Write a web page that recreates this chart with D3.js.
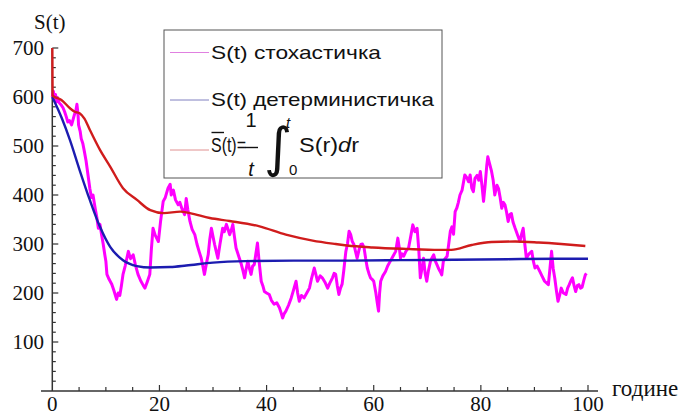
<!DOCTYPE html>
<html><head><meta charset="utf-8">
<script src="https://cdn.jsdelivr.net/npm/d3@7"></script>
<style>body{margin:0;background:#fff}svg{display:block}.serif{font-family:"Liberation Serif","DejaVu Serif","Noto Serif","Nimbus Roman","Times New Roman",Times,serif}</style>
</head><body>
<svg id="c" width="678" height="416"></svg>
<script>
const xTicks = [0, 20, 40, 60, 80, 100];
const yTicks = [100, 200, 300, 400, 500, 600, 700];
const legendLabels = ["S(t) стохастичка", "S(t) детерминистичка"];
const xLabel = "године";
const yLabel = "S(t)";

// stochastic S(t): [t, S]
const stochT = [0,0.2,0.4,0.6,0.8,1.0,1.3,1.7,2.0,2.3,2.6,2.9,3.2,3.6,3.9,4.1,4.4,4.6,4.8,4.9,5.2,5.4,5.7,6.0,6.3,6.5,6.8,7.0,7.3,7.6,8.0,8.3,8.6,8.9,9.2,9.5,9.8,10.0,10.2,10.6,11.1,11.5,12.0,12.3,12.6,12.9,13.2,13.6,14.2,14.6,15.1,15.5,16.0,16.5,17.0,17.3,17.7,18.2,18.5,18.8,19.2,19.8,20.2,20.7,21.1,21.6,22.0,22.2,22.6,23.0,23.5,23.8,24.2,24.7,25.0,25.3,25.7,26.1,26.6,27.0,27.4,27.8,28.1,28.4,28.8,29.1,29.4,29.7,30.0,30.3,30.6,30.9,31.3,31.8,32.1,32.5,32.8,33.1,33.4,33.7,34.0,34.3,34.8,35.3,35.6,35.9,36.2,36.5,36.8,37.1,37.4,37.7,38.0,38.3,38.6,39.0,39.3,39.6,40.0,40.5,40.9,41.4,41.9,42.4,42.7,43.0,43.3,43.6,44.1,44.6,45.0,45.5,45.8,46.1,46.5,47.0,47.5,48.0,48.4,48.9,49.2,49.5,50.0,50.4,50.9,51.4,51.8,52.3,52.6,52.9,53.2,53.5,53.8,54.1,54.4,54.8,55.1,55.4,55.7,56.0,56.3,56.6,56.9,57.3,57.6,57.9,58.2,58.5,58.8,59.1,59.4,59.7,60.0,60.4,60.7,60.9,61.1,61.3,61.7,62.2,62.6,63.1,63.6,64.1,64.5,64.8,65.0,65.3,65.6,66.0,66.5,66.9,67.3,67.7,68.1,68.4,68.7,69.0,69.3,69.6,69.9,70.2,70.6,70.9,71.2,71.5,71.8,72.1,72.4,72.7,73.0,73.4,73.7,74.0,74.3,74.6,74.9,75.2,75.5,75.8,76.1,76.5,77.0,77.4,77.7,78.0,78.3,78.6,78.9,79.3,79.6,79.9,80.2,80.5,80.8,81.1,81.3,81.6,82.0,82.3,82.6,83.0,83.3,83.6,83.9,84.2,84.5,84.8,85.1,85.4,85.7,86.0,86.4,86.8,87.3,87.6,87.9,88.2,88.5,89.0,89.5,89.8,90.1,90.5,91.0,91.4,91.9,92.3,92.6,92.9,93.2,93.5,93.8,94.1,94.4,94.7,95.0,95.4,95.9,96.2,96.5,96.8,97.1,97.4,97.7,98.0,98.3,98.6,98.9,99.2,99.5,99.7];
const stochS = [600,612,595,605,590,598,588,583,578,570,560,549,552,543,555,563,572,585,565,543,530,515,505,488,470,454,430,414,395,400,373,355,332,340,319,300,278,265,238,228,218,205,187,200,195,215,238,255,285,270,278,258,238,225,215,210,222,238,290,332,318,305,345,387,395,414,422,400,410,390,380,385,372,360,393,370,346,330,319,300,285,271,255,238,262,278,310,332,315,299,285,271,300,332,325,340,330,319,328,340,315,292,275,258,245,231,250,265,250,238,255,258,280,302,265,224,215,203,200,197,185,177,180,170,160,149,158,163,175,190,205,224,200,183,195,190,200,210,230,251,238,224,235,231,222,210,220,231,240,238,215,197,210,218,245,285,300,326,319,305,299,285,271,290,299,300,292,270,251,240,231,228,224,200,177,163,200,224,235,244,255,265,275,285,312,290,271,280,275,285,292,315,339,325,332,290,231,250,271,240,224,245,265,272,278,265,258,250,244,237,265,271,275,300,326,335,320,366,373,385,400,410,441,435,427,441,414,407,434,440,430,448,420,387,420,460,478,465,448,430,400,420,413,395,373,385,380,365,346,360,362,345,332,320,305,320,332,300,271,280,285,265,251,255,244,235,224,220,217,250,285,250,230,205,183,195,210,200,197,210,217,225,231,215,203,215,217,210,212,225,237,240];

// deterministic S(t)
const detT = [0,1.8,3.3,5.1,7.0,8.9,10.8,13.2,15.8,18.3,22.0,25.0,30.0,36.0,45.0,55.0,65.0,75.0,85.0,95.0,100];
const detS = [600,556,512,451,390,335,294,267,255,252,253,256,262,265,266,266,267,268,269,270,270];

// time average of stochastic
const avgT = [0,0.05,1.7,3.3,4.2,5.1,6.0,7.0,8.9,10.8,13.2,15.8,18.3,20.8,23.9,25.7,29.4,33.1,38.7,43.6,48.6,52.9,55.0,59.8,66.0,72.2,74.5,78.3,82.0,86.4,90.8,95.0,99.5];
const avgS = [700,603,594,577,570,567,556,533,492,458,414,390,369,363,366,363,353,347,336,319,307,300,297,293,290,288,288,298,304,305,303,300,296];

const SANS = "'Liberation Sans', Arial, Helvetica, sans-serif";

const svg = d3.select("#c");
const x = d3.scaleLinear().domain([0, 100]).range([52.3, 588]);
const y = d3.scaleLinear().domain([0, 700]).range([391, 48]);
const axisColor = "#333";

svg.append("line").attr("x1", 41).attr("x2", 598).attr("y1", y(0)).attr("y2", y(0))
  .attr("stroke", axisColor).attr("stroke-width", 1.5);
svg.append("line").attr("x1", x(0)).attr("x2", x(0)).attr("y1", y(0)).attr("y2", y(700))
  .attr("stroke", axisColor).attr("stroke-width", 1.5);

const xMinor = d3.range(5, 101, 5);
svg.selectAll(".xt").data(xMinor).join("line")
  .attr("x1", d => x(d)).attr("x2", d => x(d))
  .attr("y1", y(0)).attr("y2", d => y(0) - (d % 20 === 0 ? 6 : 4))
  .attr("stroke", axisColor).attr("stroke-width", 1.2);
svg.selectAll(".xl").data(xTicks).join("text").attr("class", "serif")
  .attr("x", d => x(d)).attr("y", 411)
  .attr("text-anchor", "middle")
  .attr("font-size", 21).attr("fill", "#111").text(d => d);

const yMinor = d3.range(20, 701, 20);
svg.selectAll(".yt").data(yMinor).join("line")
  .attr("x1", x(0)).attr("x2", d => x(0) + (d % 100 === 0 ? 6 : 3.5))
  .attr("y1", d => y(d)).attr("y2", d => y(d))
  .attr("stroke", axisColor).attr("stroke-width", 1.2);
svg.selectAll(".yl").data(yTicks).join("text").attr("class", "serif")
  .attr("x", 44).attr("y", d => y(d) + 7)
  .attr("text-anchor", "end")
  .attr("font-size", 21).attr("fill", "#111").text(d => d);

svg.append("text").attr("class", "serif").attr("x", 34).attr("y", 29)
  .attr("font-size", 21).attr("fill", "#111").text(yLabel);
svg.append("text").attr("class", "serif").attr("x", 612).attr("y", 396)
  .attr("font-size", 23).attr("fill", "#111").text(xLabel);

const line = d3.line().x(d => x(d[0])).y(d => y(d[1]));
const stoch = stochT.map((t, i) => [t, stochS[i]]);
const det = detT.map((t, i) => [t, detS[i]]);
const avg = avgT.map((t, i) => [t, avgS[i]]);

svg.append("path").datum(stoch).attr("d", line).attr("fill", "none")
  .attr("stroke", "#ff00ff").attr("stroke-width", 3).attr("stroke-linejoin", "round");
svg.append("path").datum(det).attr("d", d3.line().curve(d3.curveMonotoneX).x(d => x(d[0])).y(d => y(d[1])))
  .attr("fill", "none").attr("stroke", "#1c1cb0").attr("stroke-width", 2.4);
svg.append("path").datum(avg).attr("d", d3.line().curve(d3.curveMonotoneX).x(d => x(d[0])).y(d => y(d[1])))
  .attr("fill", "none").attr("stroke", "#d01c1c").attr("stroke-width", 2.4);

// legend
const lg = svg.append("g");
lg.append("rect").attr("x", 164).attr("y", 30).attr("width", 278).attr("height", 148)
  .attr("fill", "#fff").attr("stroke", "#555").attr("stroke-width", 1);
const legColors = ["#e080e0", "#8080c0", "#e09090"];
const legY = [52.5, 100, 150];
legY.forEach((yy, i) => {
  lg.append("line").attr("x1", 170).attr("x2", 209).attr("y1", yy).attr("y2", yy)
    .attr("stroke", legColors[i]).attr("stroke-width", 1);
});
const legW = [170, 223];
legendLabels.forEach((s, i) => {
  lg.append("text").attr("x", 211).attr("y", legY[i] + 6).style("font-family", SANS)
    .attr("font-size", 19).attr("textLength", legW[i]).attr("lengthAdjust", "spacingAndGlyphs")
    .attr("fill", "#111").text(s);
});
// formula row
const fs = 20, fy = 152;
lg.append("text").attr("x", 211).attr("y", fy).style("font-family", SANS)
  .attr("font-size", fs).attr("textLength", 35).attr("lengthAdjust", "spacingAndGlyphs")
  .attr("fill", "#111").text("S(t)=");
lg.append("line").attr("x1", 211.5).attr("x2", 224).attr("y1", 132.5).attr("y2", 132.5)
  .attr("stroke", "#111").attr("stroke-width", 1.4);
lg.append("text").attr("x", 251).attr("y", 126.5).attr("text-anchor", "middle").style("font-family", SANS)
  .attr("font-size", fs).attr("fill", "#111").text("1");
lg.append("line").attr("x1", 245).attr("x2", 258).attr("y1", 147.5).attr("y2", 147.5)
  .attr("stroke", "#111").attr("stroke-width", 1.4);
lg.append("text").attr("x", 251).attr("y", 176).attr("text-anchor", "middle").style("font-family", SANS)
  .attr("font-style", "italic").attr("font-size", fs).attr("fill", "#111").text("t");
lg.append("text").attr("x", 264).attr("y", 166).style("font-family", "'DejaVu Sans', sans-serif")
  .attr("font-size", 54).attr("fill", "#111").text("∫");
lg.append("text").attr("x", 286).attr("y", 128).style("font-family", SANS)
  .attr("font-style", "italic").attr("font-size", 15).attr("fill", "#111").text("t");
lg.append("text").attr("x", 289).attr("y", 175).style("font-family", SANS)
  .attr("font-size", 15).attr("fill", "#111").text("0");
const t3 = lg.append("text").attr("x", 299).attr("y", fy).style("font-family", SANS)
  .attr("font-size", fs).attr("textLength", 60).attr("lengthAdjust", "spacingAndGlyphs").attr("fill", "#111");
t3.append("tspan").text("S(r)");
t3.append("tspan").attr("font-style", "italic").text("d");
t3.append("tspan").text("r");
</script>
</body></html>
